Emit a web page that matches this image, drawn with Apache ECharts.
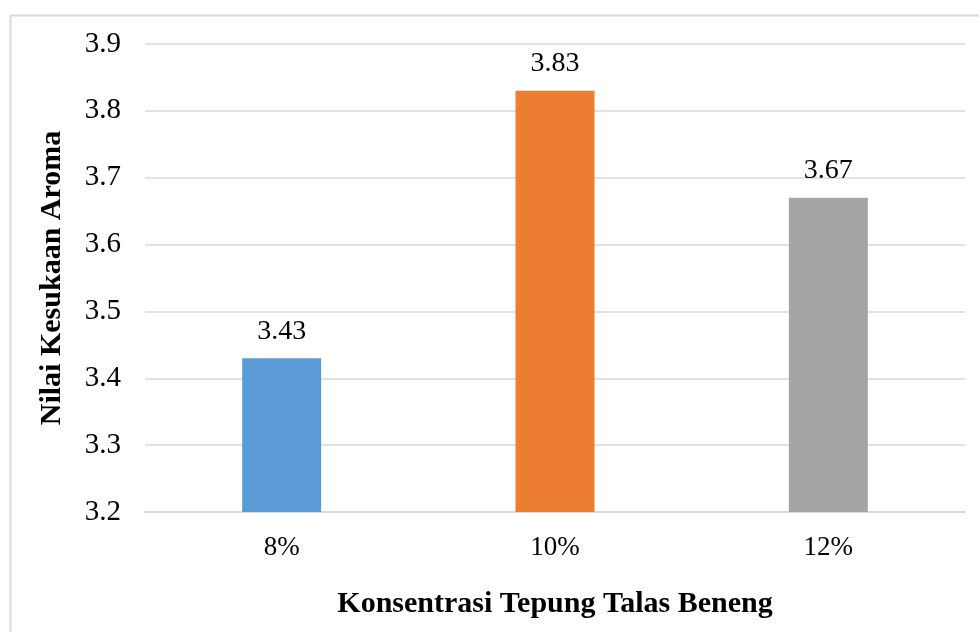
<!DOCTYPE html>
<html>
<head>
<meta charset="utf-8">
<script src="https://cdn.jsdelivr.net/npm/echarts@6/dist/echarts.min.js"></script>
<style>
  html, body { margin: 0; padding: 0; background: #ffffff; }
  #chart { width: 979px; height: 632px; }
</style>
</head>
<body>
<div id="chart"></div>
<script>
// Aroma preference scores by taro flour concentration
const categories = ['8%', '10%', '12%'];
const scores = [3.43, 3.83, 3.67];
const barColors = ['#5B9BD5', '#ED7D31', '#A5A5A5'];
const yTicks = { min: 3.2, max: 3.9, step: 0.1 };

const serif = '"Liberation Serif", "Times New Roman", serif';
const chart = echarts.init(document.getElementById('chart'), null, { renderer: 'canvas' });

chart.setOption({
  backgroundColor: '#ffffff',
  animation: false,
  graphic: [{
    type: 'rect',
    left: 8, top: 13,
    shape: { width: 1000, height: 700 },
    style: { fill: 'none', stroke: '#d9d9d9', lineWidth: 2 },
    silent: true
  }],
  grid: { left: 145, right: 14, top: 44, bottom: 120 },
  xAxis: {
    type: 'category',
    data: categories,
    axisLine: { show: true, lineStyle: { color: '#d9d9d9', width: 2 } },
    axisTick: { show: false },
    axisLabel: { color: '#000', fontFamily: serif, fontSize: 27, margin: 22 },
    name: 'Konsentrasi Tepung Talas Beneng',
    nameLocation: 'middle',
    nameGap: 77,
    nameTextStyle: { color: '#000', fontFamily: serif, fontSize: 30, fontWeight: 'bold' }
  },
  yAxis: {
    type: 'value',
    min: yTicks.min,
    max: yTicks.max,
    interval: yTicks.step,
    axisLine: { show: false },
    axisTick: { show: false },
    splitLine: { lineStyle: { color: '#d9d9d9', width: 1.5 } },
    axisLabel: {
      color: '#000', fontFamily: serif, fontSize: 29, margin: 24,
      formatter: v => v.toFixed(1)
    },
    name: 'Nilai Kesukaan Aroma',
    nameLocation: 'middle',
    nameGap: 78,
    nameRotate: 90,
    nameTextStyle: { color: '#000', fontFamily: serif, fontSize: 30, fontWeight: 'bold' }
  },
  series: [{
    type: 'bar',
    barWidth: 79,
    data: scores.map((v, i) => ({ value: v, itemStyle: { color: barColors[i] } })),
    label: {
      show: true,
      position: 'top',
      distance: 13,
      color: '#000',
      fontFamily: serif,
      fontSize: 28,
      formatter: p => p.value.toFixed(2)
    }
  }]
});
</script>
</body>
</html>
